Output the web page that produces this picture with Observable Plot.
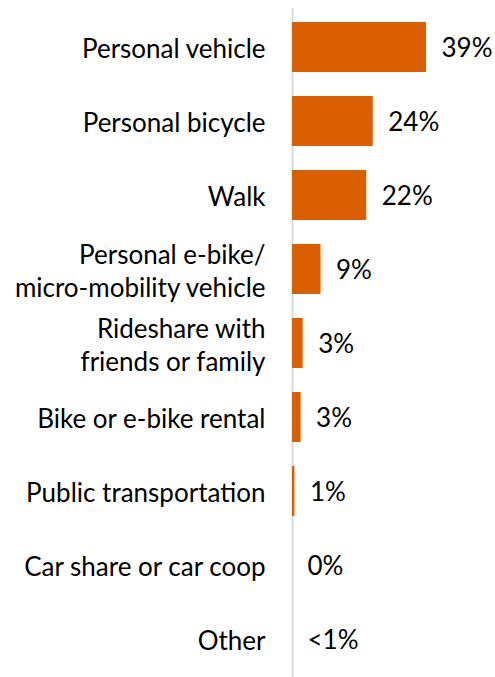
<!DOCTYPE html>
<html>
<head>
<meta charset="utf-8">
<script src="https://cdn.jsdelivr.net/npm/d3@7"></script>
<script src="https://cdn.jsdelivr.net/npm/@observablehq/plot@0.6"></script>
<style>
  html, body { margin: 0; padding: 0; background: #fff; }
  #chart svg { display: block; }
</style>
</head>
<body>
<div id="chart"></div>
<script>
const categories = [
  "Personal vehicle",
  "Personal bicycle",
  "Walk",
  "Personal e-bike/\nmicro-mobility vehicle",
  "Rideshare with\nfriends or family",
  "Bike or e-bike rental",
  "Public transportation",
  "Car share or car coop",
  "Other"
];
const values = [39, 23.5, 21.6, 8.3, 3.1, 2.5, 0.7, 0, 0];
const valueLabels = ["39%", "24%", "22%", "9%", "3%", "3%", "1%", "0%", "<1%"];

const data = categories.map((c, i) => ({category: c, value: values[i], label: valueLabels[i]}));

const FONT = "Lato, 'Noto Sans', sans-serif";

const chart = Plot.plot({
  width: 495,
  height: 677,
  marginLeft: 292,
  marginRight: 69,
  marginTop: 8,
  marginBottom: 0,
  style: {fontFamily: FONT, background: "#fff"},
  x: {domain: [0, 39], axis: null},
  y: {domain: categories, axis: null, paddingInner: 0.33, paddingOuter: 0.155, align: 0.5},
  marks: [
    Plot.ruleX([0], {stroke: "#d9d9d9", strokeWidth: 2}),
    Plot.barX(data, {x: "value", y: "category", fill: "#d95f02"}),
    Plot.text(data, {
      x: 0, y: "category", text: "category",
      textAnchor: "end", dx: -27, dy: 0, fontSize: 26, lineHeight: 1.27, fill: "#000"
    }),
    Plot.text(data, {
      x: "value", y: "category", text: "label",
      textAnchor: "start", dx: 15, dy: 1.5, fontSize: 26, fill: "#000"
    })
  ]
});
document.getElementById("chart").appendChild(chart);
</script>
</body>
</html>
